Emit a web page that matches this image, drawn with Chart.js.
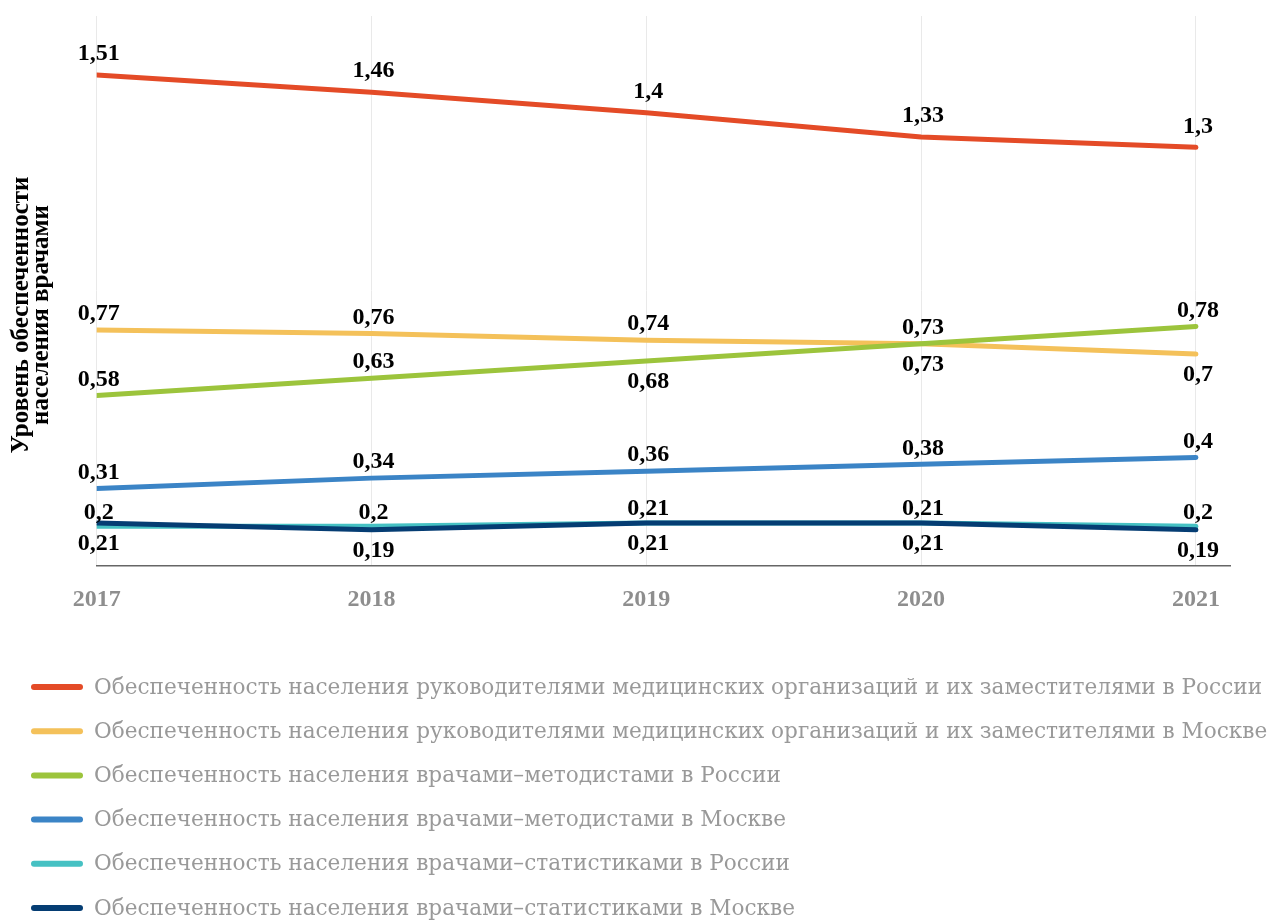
<!DOCTYPE html>
<html>
<head>
<meta charset="utf-8">
<script src="https://cdn.jsdelivr.net/npm/chart.js@4.4.1/dist/chart.umd.min.js"></script>
<style>
  html, body { margin: 0; padding: 0; background: #ffffff; overflow: hidden; }
  #wrap { position: relative; width: 1267px; height: 920px; }
</style>
</head>
<body>
<div id="wrap"><canvas id="c"></canvas></div>
<script>
// ---- data ----
const years = [2017, 2018, 2019, 2020, 2021];
const seriesNames = [
  'Обеспеченность населения руководителями медицинских организаций и их заместителями в России',
  'Обеспеченность населения руководителями медицинских организаций и их заместителями в Москве',
  'Обеспеченность населения врачами–методистами в России',
  'Обеспеченность населения врачами–методистами в Москве',
  'Обеспеченность населения врачами–статистиками в России',
  'Обеспеченность населения врачами–статистиками в Москве'
];
const headsRussia = [1.51, 1.46, 1.4, 1.33, 1.3];
const headsMoscow = [0.77, 0.76, 0.74, 0.73, 0.7];
const methodRussia = [0.58, 0.63, 0.68, 0.73, 0.78];
const methodMoscow = [0.31, 0.34, 0.36, 0.38, 0.4];
const statRussia = [0.2, 0.2, 0.21, 0.21, 0.2];
const statMoscow = [0.21, 0.19, 0.21, 0.21, 0.19];
const yTitleLines = ['Уровень обеспеченности', 'населения врачами'];

// ---- styles (kept separate from data) ----
const colors = ['#e44b27', '#f4c15a', '#9cc43c', '#3b84c6', '#46c1c3', '#053d73'];
const labelSide = [
  ['a','a','a','a','a'],
  ['a','a','a','a','b'],
  ['a','a','b','b','a'],
  ['a','a','a','a','a'],
  ['a','a','a','a','a'],
  ['b','b','b','b','b']
];
const aboveGap = [21, 16, 16, 16, 14, 16];
const belowGap = 21;

const allSeries = [headsRussia, headsMoscow, methodRussia, methodMoscow, statRussia, statMoscow];

const datasets = allSeries.map((vals, i) => ({
  label: seriesNames[i],
  data: vals.map((v, k) => ({ x: years[k], y: v })),
  borderColor: colors[i],
  backgroundColor: colors[i],
  borderWidth: 5,
  borderCapStyle: 'round',
  borderJoinStyle: 'round',
  pointRadius: 0,
  pointHoverRadius: 0,
  tension: 0,
  fill: false,
  order: allSeries.length - i
}));

const valueLabels = {
  id: 'valueLabels',
  afterDatasetsDraw(chart) {
    const ctx = chart.ctx;
    ctx.save();
    ctx.font = 'bold 24px "Liberation Serif", serif';
    ctx.fillStyle = '#000000';
    ctx.textAlign = 'center';
    ctx.textBaseline = 'middle';
    chart.data.datasets.forEach((ds, i) => {
      const meta = chart.getDatasetMeta(i);
      meta.data.forEach((pt, k) => {
        const v = allSeries[i][k];
        const txt = String(v).replace('.', ',');
        const y = labelSide[i][k] === 'a' ? pt.y - aboveGap[i] : pt.y + belowGap;
        ctx.fillText(txt, pt.x + 2, y);
      });
    });
    ctx.restore();
  }
};

const customLegend = {
  id: 'customLegend',
  afterDraw(chart) {
    const ctx = chart.ctx;
    ctx.save();
    ctx.font = '21.6px "DejaVu Serif", serif';
    ctx.textBaseline = 'middle';
    ctx.textAlign = 'left';
    chart.data.datasets.forEach((ds, i) => {
      const y = 687 + i * 44.2;
      ctx.strokeStyle = ds.borderColor;
      ctx.lineWidth = 6;
      ctx.lineCap = 'round';
      ctx.beginPath();
      ctx.moveTo(34, y);
      ctx.lineTo(80, y);
      ctx.stroke();
      ctx.fillStyle = '#999999';
      ctx.fillText(ds.label, 94, y + 1);
    });
    ctx.restore();
  }
};

Chart.defaults.font.family = '"Liberation Serif", serif';

new Chart(document.getElementById('c'), {
  type: 'line',
  data: { datasets },
  options: {
    responsive: true,
    maintainAspectRatio: false,
    animation: false,
    layout: { padding: { top: 16, right: 37, bottom: 306, left: 0 } },
    plugins: {
      legend: { display: false },
      tooltip: { enabled: false },
      title: {
        display: true,
        position: 'left',
        text: yTitleLines,
        color: '#000000',
        font: { family: '"Liberation Serif", serif', size: 25, weight: 'bold', lineHeight: 0.8 },
        padding: { top: 12, bottom: 44.7 }
      }
    },
    scales: {
      x: {
        type: 'linear',
        min: 2017,
        max: 2021.124,
        afterFit(scale) { scale.height = 48; },
        grid: { color: '#e9e9e9', lineWidth: 1, drawTicks: false },
        border: { display: true, color: '#666666', width: 1.5 },
        ticks: {
          stepSize: 1,
          includeBounds: false,
          autoSkip: false,
          maxRotation: 0,
          padding: 19,
          color: '#8e8e8e',
          font: { family: '"Liberation Serif", serif', size: 24, weight: 'bold' },
          callback: (v) => String(v)
        }
      },
      y: {
        display: false,
        min: 0.085,
        max: 1.681
      }
    }
  },
  plugins: [valueLabels, customLegend]
});
</script>
</body>
</html>
